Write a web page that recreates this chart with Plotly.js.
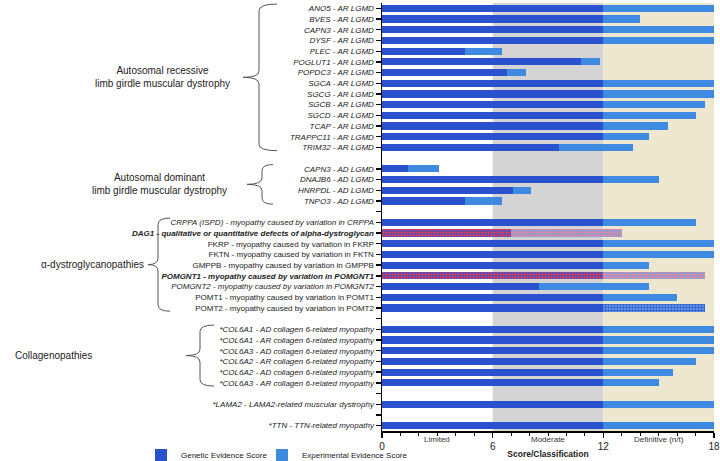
<!DOCTYPE html>
<html>
<head>
<meta charset="utf-8">
<script src="https://cdn.plot.ly/plotly-3.0.1.min.js"></script>
<style>
html, body { margin: 0; padding: 0; background: #fff; }
#chart { width: 720px; height: 461px; }
</style>
</head>
<body>
<div id="chart"></div>
<script>
// rows top to bottom; '' = spacer row with a tick, null = spacer row without tick
const labels = [
    'ANO5 - AR LGMD', 'BVES - AR LGMD', 'CAPN3 - AR LGMD', 'DYSF - AR LGMD',
    'PLEC - AR LGMD', 'POGLUT1 - AR LGMD', 'POPDC3 - AR LGMD', 'SGCA - AR LGMD',
    'SGCG - AR LGMD', 'SGCB - AR LGMD', 'SGCD - AR LGMD', 'TCAP - AR LGMD',
    'TRAPPC11 - AR LGMD', 'TRIM32 - AR LGMD',
    null,
    'CAPN3 - AD LGMD', 'DNAJB6 - AD LGMD', 'HNRPDL - AD LGMD', 'TNPO3 - AD LGMD',
    '',
    'CRPPA (ISPD) - myopathy caused by variation in CRPPA',
    'DAG1 - qualitative or quantitative defects of alpha-dystroglycan',
    'FKRP - myopathy caused by variation in FKRP',
    'FKTN - myopathy caused by variation in FKTN',
    'GMPPB - myopathy caused by variation in GMPPB',
    'POMGNT1 - myopathy caused by variation in POMGNT1',
    'POMGNT2 - myopathy caused by variation in POMGNT2',
    'POMT1 - myopathy caused by variation in POMT1',
    'POMT2 - myopathy caused by variation in POMT2',
    '',
    '*COL6A1 - AD collagen 6-related myopathy',
    '*COL6A1 - AR collagen 6-related myopathy',
    '*COL6A3 - AD collagen 6-related myopathy',
    '*COL6A2 - AR collagen 6-related myopathy',
    '*COL6A2 - AD collagen 6-related myopathy',
    '*COL6A3 - AR collagen 6-related myopathy',
    '',
    '*LAMA2 - LAMA2-related muscular dystrophy',
    '',
    '*TTN - TTN-related myopathy'
];

const genetic = [12, 12, 12, 12, 4.5, 10.8, 6.8, 12, 12, 12, 12, 12, 12, 9.6,
                 null,
                 1.4, 12, 7.1, 4.5,
                 null,
                 12, 7, 12, 12, 12, 12, 8.5, 12, 12,
                 null,
                 12, 12, 12, 12, 12, 12,
                 null,
                 12,
                 null,
                 12];

const experimental = [6, 2, 6, 6, 2, 1, 1, 6, 6, 5.5, 5, 3.5, 2.5, 4,
                      null,
                      1.7, 3, 1, 2,
                      null,
                      5, 6, 6, 6, 2.5, 5.5, 6, 4, 5.5,
                      null,
                      6, 6, 6, 5, 3.75, 3,
                      null,
                      6,
                      null,
                      6];

const xTicks = [0, 6, 12, 18];
const xTickText = ['0', '6', '12', '18'];

const uprightRows = ['FKRP', 'FKTN', 'GMPPB', 'POMT1', 'POMT2'];
const boldRows = ['DAG1', 'POMGNT1'];
const hatchedGenetic = ['DAG1', 'POMGNT1'];
const hatchedExperimental = ['DAG1', 'POMGNT1', 'POMT2'];

const groups = [
    { text: 'Autosomal recessive<br>limb girdle muscular dystrophy', first: 'ANO5 - AR LGMD', last: 'TRIM32 - AR LGMD', textRight: 232, tip: 243, bar: 259, end: 277 },
    { text: 'Autosomal dominant<br>limb girdle muscular dystrophy', first: 'CAPN3 - AD LGMD', last: 'TNPO3 - AD LGMD', textRight: 229, tip: 247, bar: 262, end: 273 },
    { text: 'α-dystroglycanopathies', first: 'CRPPA (ISPD) - myopathy caused by variation in CRPPA', last: 'POMT2 - myopathy caused by variation in POMT2', textRight: 146, tip: 148, bar: 158, end: 170 },
    { text: 'Collagenopathies', first: '*COL6A1 - AD collagen 6-related myopathy', last: '*COL6A3 - AR collagen 6-related myopathy', textRight: 94, tip: 186, bar: 200, end: 214 }
];

const geneOf = s => s ? s.replace('*', '').split(' ')[0] : '';
const rows = labels.map((_, i) => i);

function fmt(s) {
    if (!s) return '';
    const g = geneOf(s);
    if (boldRows.includes(g)) return '<b><i>' + s + '</i></b>';
    if (uprightRows.includes(g)) return s;
    return '<i>' + s + '</i>';
}

const tickRows = rows.filter(i => labels[i] !== null);

const GEN = '#2a52cf';
const EXP = '#3d8ae0';

const genPattern = {
    shape: labels.map(s => hatchedGenetic.includes(geneOf(s)) ? '.' : ''),
    fgcolor: labels.map(s => hatchedGenetic.includes(geneOf(s)) ? '#ec3b48' : null),
    bgcolor: labels.map(s => hatchedGenetic.includes(geneOf(s)) ? '#3050d8' : null),
    size: 3,
    solidity: 0.5
};
const expPattern = {
    shape: labels.map(s => hatchedExperimental.includes(geneOf(s)) ? '.' : ''),
    fgcolor: labels.map(s => geneOf(s) === 'POMT2' ? '#2c5ad2' : (hatchedExperimental.includes(geneOf(s)) ? '#ee8796' : null)),
    bgcolor: labels.map(s => geneOf(s) === 'POMT2' ? '#6fa3e8' : (hatchedExperimental.includes(geneOf(s)) ? '#6f9fe6' : null)),
    size: 3,
    solidity: 0.5
};

const L = 382, R = 714;
const px = v => (v - L) / (R - L);

const shapes = [
    { type: 'rect', xref: 'x', yref: 'paper', x0: 6, x1: 12, y0: 0, y1: 1, fillcolor: '#d4d4d4', line: { width: 0 }, layer: 'below' },
    { type: 'rect', xref: 'x', yref: 'paper', x0: 12, x1: 18, y0: 0, y1: 1, fillcolor: '#ede7cf', line: { width: 0 }, layer: 'below' }
];
const annotations = [];

// curly braces + group names on the left
groups.forEach(g => {
    const yt = labels.indexOf(g.first) - 0.4;
    const yb = labels.indexOf(g.last) + 0.3;
    const ym = (yt + yb) / 2;
    const r = 0.6;
    const xe = px(g.end), xv = px(g.bar), xt = px(g.tip);
    const path = 'M' + xe + ',' + yt +
        ' Q' + xv + ',' + yt + ' ' + xv + ',' + (yt + r) +
        ' L' + xv + ',' + (ym - r) +
        ' Q' + xv + ',' + ym + ' ' + xt + ',' + ym +
        ' Q' + xv + ',' + ym + ' ' + xv + ',' + (ym + r) +
        ' L' + xv + ',' + (yb - r) +
        ' Q' + xv + ',' + yb + ' ' + xe + ',' + yb;
    shapes.push({ type: 'path', xref: 'paper', yref: 'y', path: path, line: { color: '#555', width: 1 } });
    annotations.push({
        xref: 'paper', yref: 'y', x: px(g.textRight), y: ym, xanchor: 'right', yanchor: 'middle',
        text: g.text, showarrow: false, align: 'center',
        font: { family: 'Liberation Sans, Arial, sans-serif', size: 10, color: '#222' }
    });
});

const classes = [[3, 'Limited'], [9, 'Moderate'], [15, 'Definitive (n/t)']];
classes.forEach(c => annotations.push({
    xref: 'x', yref: 'paper', x: c[0], y: -0.019, yanchor: 'middle', showarrow: false,
    text: c[1], font: { family: 'Liberation Sans, Arial, sans-serif', size: 8, color: '#333' }
}));

const data = [
    {
        type: 'bar', orientation: 'h', name: 'Genetic Evidence Score',
        x: genetic, y: rows, legend: 'legend',
        marker: { color: GEN, line: { width: 0 }, pattern: genPattern },
        hoverinfo: 'x+name'
    },
    {
        type: 'bar', orientation: 'h', name: 'Experimental Evidence Score',
        x: experimental, y: rows, legend: 'legend2',
        marker: { color: EXP, line: { width: 0 }, pattern: expPattern },
        hoverinfo: 'x+name'
    }
];

const legendStyle = {
    orientation: 'h', y: -0.056, xanchor: 'left', yanchor: 'middle',
    bgcolor: 'rgba(0,0,0,0)', font: { size: 8, color: '#222' }, itemwidth: 30
};

const layout = {
    width: 720, height: 461,
    margin: { l: L, r: 720 - R, t: 3, b: 30, autoexpand: false },
    barmode: 'stack', bargap: 0.32,
    paper_bgcolor: '#fff', plot_bgcolor: 'rgba(0,0,0,0)',
    font: { family: 'Liberation Sans, Arial, sans-serif', color: '#222' },
    xaxis: {
        range: [0, 18], tickmode: 'array', tickvals: xTicks, ticktext: xTickText,
        showgrid: false, zeroline: false, ticklabeloverflow: 'allow',
        showline: true, linecolor: '#000', linewidth: 1.5,
        ticks: 'outside', ticklen: 5, tickwidth: 1.3, tickcolor: '#000',
        minor: { dtick: 1, ticks: 'outside', ticklen: 3, tickwidth: 1, tickcolor: '#000' },
        tickfont: { size: 10, color: '#222' },
        title: { text: '<b>Score/Classification</b>', standoff: 0, font: { size: 8.5, color: '#222' } }
    },
    yaxis: {
        range: [labels.length - 0.5, -0.5], tickmode: 'array',
        tickvals: tickRows, ticktext: tickRows.map(i => fmt(labels[i])),
        showgrid: false, zeroline: false,
        showline: true, linecolor: '#000', linewidth: 1.5,
        ticks: 'outside', ticklen: 5, tickwidth: 1.3, tickcolor: '#000',
        tickfont: { family: 'Liberation Sans, Arial, sans-serif', size: 8, color: '#222' }
    },
    showlegend: true,
    legend: Object.assign({ x: px(141) }, legendStyle),
    legend2: Object.assign({ x: px(262) }, legendStyle),
    shapes: shapes,
    annotations: annotations
};

Plotly.newPlot('chart', data, layout, { displayModeBar: false, staticPlot: true });
</script>
</body>
</html>
